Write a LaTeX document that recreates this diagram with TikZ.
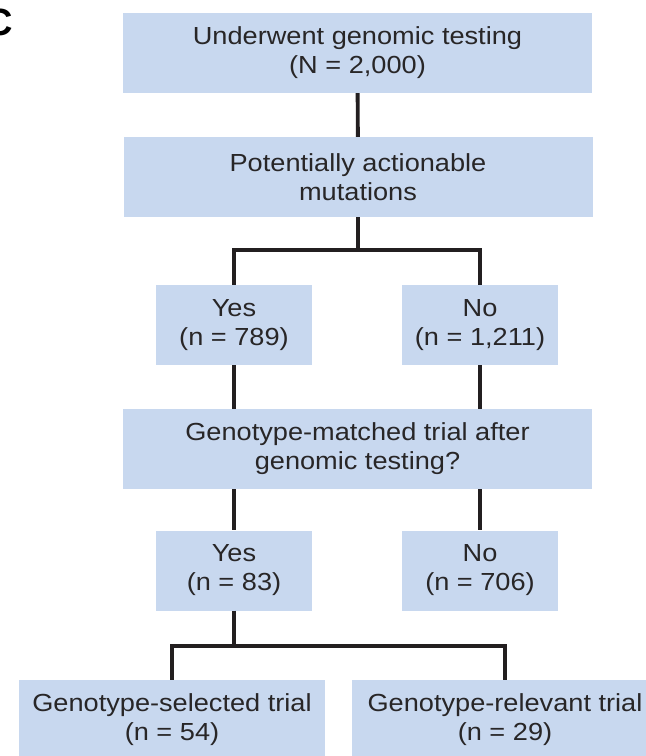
\documentclass[tikz,border=0pt]{standalone}
\usepackage{fontspec}
\setmainfont{Liberation Sans}[FakeStretch=1.1]
\newfontfamily\panelfont{Liberation Sans}
\definecolor{boxblue}{RGB}{200,216,239}
\definecolor{ink}{RGB}{35,31,32}
\definecolor{txt}{RGB}{40,38,39}
\begin{document}
\begin{tikzpicture}[x=1pt,y=-1pt,
  flow/.style={fill=boxblue, draw=none, inner sep=0pt, align=center,
    font=\fontsize{24.7}{29}\selectfont, text=txt, minimum height=80},
  wide/.style={flow, minimum width=469},
  small/.style={flow, minimum width=156},
  trial/.style={flow, minimum width=306},
  link/.style={draw=ink, line width=3.9pt}]
\useasboundingbox (0,0) rectangle (646,756);

% panel letter
\node[anchor=base west, inner sep=0pt, font=\panelfont\bfseries\fontsize{38}{38}\selectfont, text=black] (lbl) at (-15,35) {C};

% boxes
\node[wide]  (b1) at (357.5,53)  {Underwent genomic testing\\(N = 2,000)};
\node[wide]  (b2) at (358,177)   {Potentially actionable\\mutations};
\node[small] (b3) at (234,325)   {Yes\\(n = 789)};
\node[small] (b4) at (480,325)   {No\\(n = 1,211)};
\node[wide]  (b5) at (357.5,449) {Genotype-matched trial after\\genomic testing?};
\node[small] (b6) at (234,570.5) {Yes\\(n = 83)};
\node[small] (b7) at (480,570.5) {No\\(n = 706)};
\node[trial] (b8) at (172,720)   {Genotype-selected trial\\(n = 54)};
\node[trial] (b9) at (505,720)   {Genotype-relevant trial\\(n = 29)};

% junction points
\coordinate (j1) at (b2.south |- {(0,250)});
\coordinate (j2) at (b6.south |- {(0,646)});

% connectors
\draw[link] (b1) -- (b2);
\draw[link] (b2.south) -- (j1);
\draw[link] (b3.north) |- (j1) -| (b4.north);
\draw[link] (b3.south) -- (b3.south |- b5.north);
\draw[link] (b4.south) -- (b4.south |- b5.north);
\draw[link] (b6.north |- b5.south) -- (b6.north);
\draw[link] (b7.north |- b5.south) -- (b7.north);
\draw[link] (b6.south) -- (j2);
\draw[link] (b8.north) |- (j2) -| (b9.north);
\end{tikzpicture}
\end{document}
